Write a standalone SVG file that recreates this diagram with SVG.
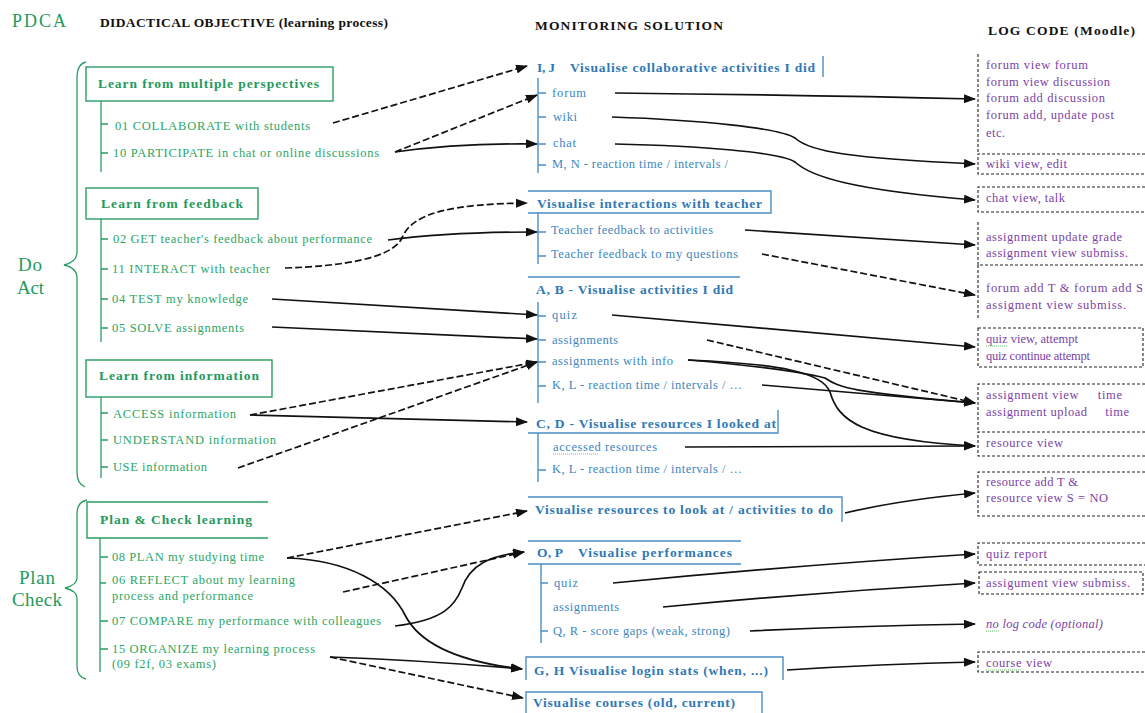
<svg xmlns="http://www.w3.org/2000/svg" width="1145" height="713" viewBox="0 0 1145 713">
  <defs>
    <marker id="arrow" markerUnits="userSpaceOnUse" markerWidth="12" markerHeight="9" refX="11" refY="4.5" orient="auto">
      <path d="M0,0 L12,4.5 L0,9 z" fill="#111"/>
    </marker>
    <style>
      text { font-family: "Liberation Serif", "Times New Roman", serif; }
      .hdr { font-size: 13.5px; font-weight: bold; fill: #111; }
      .pdca { font-size: 18px; fill: #1f9a5c; }
      .phase { font-size: 19px; fill: #1f9a5c; }
      .gbox { fill: none; stroke: #2a9d62; stroke-width: 1.4; }
      .gline { fill: none; stroke: #2a9d62; stroke-width: 1.3; }
      .gtitle { font-size: 13.5px; font-weight: bold; fill: #1f9a5c; }
      .gitem { font-size: 12.5px; fill: #2aa665; }
      .bline { fill: none; stroke: #4a8fc6; stroke-width: 1.4; }
      .btitle { font-size: 13.5px; font-weight: bold; fill: #2f78b5; }
      .bitem { font-size: 12.5px; fill: #3d86c0; }
      .lbox { fill: none; stroke: #222; stroke-width: 1.1; stroke-dasharray: 3 2; }
      .log { font-size: 12.5px; fill: #7b3fa5; }
      .squig { fill: none; stroke: #6cbf6c; stroke-width: 1; stroke-dasharray: 1 1; }
      .c { fill: none; stroke: #111; stroke-width: 1.7; marker-end: url(#arrow); }
      .d { fill: none; stroke: #111; stroke-width: 1.7; stroke-dasharray: 7 3; marker-end: url(#arrow); }
    </style>
  </defs>

  <!-- column headers -->
  <g id="headers">
    <text class="pdca" x="12" y="27" textLength="54">PDCA</text>
    <text class="hdr" x="100" y="27" textLength="288">DIDACTICAL OBJECTIVE (learning process)</text>
    <text class="hdr" x="535" y="30" textLength="188">MONITORING SOLUTION</text>
    <text class="hdr" x="988" y="35" textLength="147">LOG CODE (Moodle)</text>
  </g>

  <!-- PDCA phases with braces -->
  <g id="phase-do-act">
    <path class="gline" d="M86,62 Q77,64 77,78 L77,252 Q77,262 64,265 Q77,268 77,278 L77,472 Q77,484 85,487"/>
    <text class="phase" x="18" y="271" textLength="24">Do</text>
    <text class="phase" x="17" y="294" textLength="27">Act</text>
  </g>
  <g id="phase-plan-check">
    <path class="gline" d="M87,500 Q77,502 77,514 L77,578 Q77,585 65,588 Q77,591 77,598 L77,666 Q77,677 86,679"/>
    <text class="phase" x="19" y="584" textLength="36">Plan</text>
    <text class="phase" x="12" y="606" textLength="50">Check</text>
  </g>

  <!-- didactical objectives -->
  <g id="obj-perspectives">
    <rect class="gbox" x="86" y="67" width="247" height="34"/>
    <text class="gtitle" x="98" y="88" textLength="221">Learn from multiple perspectives</text>
    <path class="gline" d="M101,101 V172 M101,124 H108 M101,153 H108"/>
    <text class="gitem" x="115" y="130" textLength="195">01 COLLABORATE with students</text>
    <text class="gitem" x="113" y="157" textLength="266">10 PARTICIPATE in chat or online discussions</text>
  </g>
  <g id="obj-feedback">
    <rect class="gbox" x="86" y="188" width="172" height="31"/>
    <text class="gtitle" x="101" y="208" textLength="142">Learn from feedback</text>
    <path class="gline" d="M101,219 V342 M101,239 H108 M101,269 H108 M101,299 H108 M101,328 H108"/>
    <text class="gitem" x="113" y="243" textLength="259">02 GET teacher's feedback about performance</text>
    <text class="gitem" x="112" y="273" textLength="158">11 INTERACT with teacher</text>
    <text class="gitem" x="112" y="303" textLength="136">04 TEST my knowledge</text>
    <text class="gitem" x="112" y="332" textLength="132">05 SOLVE assignments</text>
  </g>
  <g id="obj-information">
    <rect class="gbox" x="86" y="360" width="186" height="37"/>
    <text class="gtitle" x="99" y="380" textLength="160">Learn from information</text>
    <path class="gline" d="M101,397 V478 M101,413 H108 M101,440 H108 M101,467 H108"/>
    <text class="gitem" x="113" y="418" textLength="123">ACCESS information</text>
    <text class="gitem" x="113" y="444" textLength="163">UNDERSTAND information</text>
    <text class="gitem" x="113" y="471" textLength="94">USE information</text>
  </g>
  <g id="obj-plan-check">
    <path class="gbox" d="M268,502 H87 V538 H268"/>
    <text class="gtitle" x="100" y="524" textLength="152">Plan &amp; Check learning</text>
    <path class="gline" d="M100,538 V672 M100,557 H108 M100,583 H106 M100,621 H108 M100,649 H108"/>
    <text class="gitem" x="112" y="561" textLength="152">08 PLAN my studying time</text>
    <text class="gitem" x="112" y="584" textLength="183">06 REFLECT about my learning</text>
    <text class="gitem" x="112" y="600" textLength="141">process and performance</text>
    <text class="gitem" x="112" y="625" textLength="269">07 COMPARE my performance with colleagues</text>
    <text class="gitem" x="112" y="653" textLength="203">15 ORGANIZE my learning process</text>
    <text class="gitem" x="112" y="668" textLength="104">(09 f2f, 03 exams)</text>
  </g>

  <!-- monitoring solutions -->
  <g id="mon-collaborative">
    <text class="btitle" x="537" y="72" textLength="18">I, J</text>
    <text class="btitle" x="570" y="72" textLength="245">Visualise collaborative activities I did</text>
    <path class="bline" d="M823,56 V77 M538,78 V173 M538,93 H546 M538,117 H546 M538,144 H546 M538,165 H546"/>
    <text class="bitem" x="552" y="97" textLength="34">forum</text>
    <text class="bitem" x="553" y="121" textLength="24">wiki</text>
    <text class="bitem" x="553" y="147" textLength="23">chat</text>
    <text class="bitem" x="552" y="168" textLength="176">M, N - reaction time / intervals /</text>
  </g>
  <g id="mon-teacher">
    <path class="bline" d="M528,191 H771 V213 H528 M538,213 V264 M538,232 H546 M538,256 H546"/>
    <text class="btitle" x="537" y="208" textLength="225">Visualise interactions with teacher</text>
    <text class="bitem" x="551" y="234" textLength="162">Teacher feedback to activities</text>
    <text class="bitem" x="551" y="258" textLength="187">Teacher feedback to my questions</text>
  </g>
  <g id="mon-activities">
    <path class="bline" d="M528,277 H740 M538,302 V403 M538,316 H546 M538,340 H546 M538,362 H546 M538,386 H546"/>
    <text class="btitle" x="536" y="294" textLength="197">A, B - Visualise activities I did</text>
    <text class="bitem" x="552" y="319" textLength="25">quiz</text>
    <text class="bitem" x="552" y="344" textLength="66">assignments</text>
    <text class="bitem" x="552" y="365" textLength="121">assignments with info</text>
    <text class="bitem" x="552" y="389" textLength="190">K, L - reaction time / intervals / …</text>
  </g>
  <g id="mon-resources">
    <path class="bline" d="M778,410 V433 H528 M538,433 V482 M538,470 H546"/>
    <text class="btitle" x="536" y="428" textLength="240">C, D - Visualise resources I looked at</text>
    <text class="bitem" x="553" y="451" textLength="104">accessed resources</text>
    <path class="squig" d="M553,454 H598"/>
    <text class="bitem" x="552" y="473" textLength="190">K, L - reaction time / intervals / …</text>
  </g>
  <g id="mon-todo">
    <path class="bline" d="M528,497 H842 V522"/>
    <text class="btitle" x="535" y="514" textLength="298">Visualise resources to look at / activities to do</text>
  </g>
  <g id="mon-performance">
    <path class="bline" d="M528,541 H741 M528,564 H741 M541,564 V643 M541,583 H548 M541,631 H548"/>
    <text class="btitle" x="537" y="557" textLength="26">O, P</text>
    <text class="btitle" x="578" y="557" textLength="154">Visualise performances</text>
    <text class="bitem" x="554" y="587" textLength="24">quiz</text>
    <text class="bitem" x="553" y="611" textLength="66">assignments</text>
    <text class="bitem" x="553" y="635" textLength="177">Q, R - score gaps (weak, strong)</text>
  </g>
  <g id="mon-login">
    <path class="bline" d="M526,680 V657 H783 V680"/>
    <text class="btitle" x="534" y="675" textLength="234">G, H Visualise login stats (when, ...)</text>
  </g>
  <g id="mon-courses">
    <path class="bline" d="M526,713 V692 H762 V713"/>
    <text class="btitle" x="533" y="707" textLength="202">Visualise courses (old, current)</text>
  </g>

  <!-- Moodle log codes -->
  <g id="log-forum">
    <path class="lbox" d="M978,54 V154"/>
    <text class="log" x="986" y="69" textLength="102">forum view forum</text>
    <text class="log" x="986" y="86" textLength="124">forum view discussion</text>
    <text class="log" x="986" y="102" textLength="119">forum add discussion</text>
    <text class="log" x="986" y="119" textLength="128">forum add, update post</text>
    <text class="log" x="986" y="137" textLength="19">etc.</text>
  </g>
  <g id="log-wiki">
    <path class="lbox" d="M1145,154 H978 V174 H1145"/>
    <text class="log" x="986" y="168" textLength="81">wiki view, edit</text>
  </g>
  <g id="log-chat">
    <path class="lbox" d="M1145,187 H978 V212 H1145"/>
    <text class="log" x="986" y="202" textLength="79">chat view, talk</text>
  </g>
  <g id="log-grade">
    <path class="lbox" d="M978,222 V265 H1145"/>
    <text class="log" x="986" y="241" textLength="136">assignment update grade</text>
    <text class="log" x="986" y="257" textLength="142">assignment view submiss.</text>
  </g>
  <g id="log-forum-add">
    <path class="lbox" d="M978,265 V318"/>
    <text class="log" x="986" y="292" textLength="157">forum add T &amp; forum add S</text>
    <text class="log" x="986" y="309" textLength="140">assigment view submiss.</text>
  </g>
  <g id="log-quiz">
    <rect class="lbox" x="978" y="328" width="165" height="39"/>
    <text class="log" x="986" y="343" textLength="92">quiz view, attempt</text>
    <path class="squig" d="M986,346 H1008"/>
    <text class="log" x="986" y="360" textLength="104">quiz continue attempt</text>
  </g>
  <g id="log-assignment">
    <path class="lbox" d="M1145,384 H978 V432"/>
    <text class="log" x="986" y="399" xml:space="preserve" textLength="136">assignment view     time</text>
    <text class="log" x="986" y="416" xml:space="preserve" textLength="143">assignment upload     time</text>
  </g>
  <g id="log-resource">
    <path class="lbox" d="M1145,432 H978 V456 H1145"/>
    <text class="log" x="986" y="447" textLength="77">resource view</text>
  </g>
  <g id="log-resource-add">
    <path class="lbox" d="M1145,472 H978 V516 H1145"/>
    <text class="log" x="986" y="486" textLength="92">resource add T &amp;</text>
    <text class="log" x="986" y="502" textLength="122">resource view S = NO</text>
  </g>
  <g id="log-quiz-report">
    <path class="lbox" d="M1145,543 H978 V565 H1145"/>
    <text class="log" x="986" y="558" textLength="61">quiz report</text>
  </g>
  <g id="log-submiss">
    <rect class="lbox" x="979" y="572" width="164" height="22"/>
    <text class="log" x="986" y="587" textLength="144">assigument view submiss.</text>
  </g>
  <g id="log-none">
    <text class="log" x="986" y="628" font-style="italic" textLength="117">no log code (optional)</text>
    <path class="squig" d="M986,631 H1000"/>
  </g>
  <g id="log-course">
    <path class="lbox" d="M1145,652 H978 V672 H1145"/>
    <text class="log" x="986" y="667" textLength="66">course view</text>
    <path class="squig" d="M986,670 H1022"/>
  </g>

  <!-- connectors -->
  <g id="connectors">
    <!-- objectives to monitoring -->
    <path class="d" d="M333,123 L527,66"/>
    <path class="d" d="M395,152 L537,95"/>
    <path class="c" d="M395,152 Q460,143 537,144"/>
    <path class="d" d="M285,268 C345,266 392,258 402,238 C412,212 455,204 527,203"/>
    <path class="c" d="M388,240 Q450,232 537,232"/>
    <path class="c" d="M272,299 L537,315"/>
    <path class="c" d="M272,327 L537,339"/>
    <path class="d" d="M250,415 L537,362"/>
    <path class="d" d="M238,468 L537,362"/>
    <path class="c" d="M250,415 Q380,418 527,422"/>
    <path class="d" d="M287,558 L527,511"/>
    <path class="c" d="M287,558 C350,560 390,585 405,615 C420,645 460,662 522,669"/>
    <path class="d" d="M343,592 L524,552"/>
    <path class="c" d="M395,626 C445,620 455,605 462,588 C470,565 490,555 524,552"/>
    <path class="c" d="M330,657 Q420,660 522,669"/>
    <path class="d" d="M330,657 L523,698"/>

    <!-- monitoring to log codes -->
    <path class="c" d="M615,93 Q800,95 975,99"/>
    <path class="c" d="M612,117 C700,120 780,128 795,138 C810,152 850,158 975,164"/>
    <path class="c" d="M615,144 C700,146 780,152 795,162 C810,176 850,190 975,200"/>
    <path class="c" d="M745,230 L975,245"/>
    <path class="d" d="M762,254 L975,295"/>
    <path class="c" d="M612,315 L975,347"/>
    <path class="d" d="M707,340 L975,403"/>
    <path class="c" d="M688,360 C760,366 800,372 825,378 C840,388 850,392 975,403"/>
    <path class="c" d="M688,360 C780,364 822,372 830,392 C838,420 860,440 975,446"/>
    <path class="c" d="M762,385 L975,403"/>
    <path class="c" d="M685,447 L975,446"/>
    <path class="c" d="M845,513 Q900,500 975,493"/>
    <path class="c" d="M613,583 Q800,565 975,554"/>
    <path class="c" d="M663,607 Q820,592 975,583"/>
    <path class="c" d="M750,631 Q860,626 975,624"/>
    <path class="c" d="M787,670 Q880,664 975,662"/>
  </g>
</svg>
